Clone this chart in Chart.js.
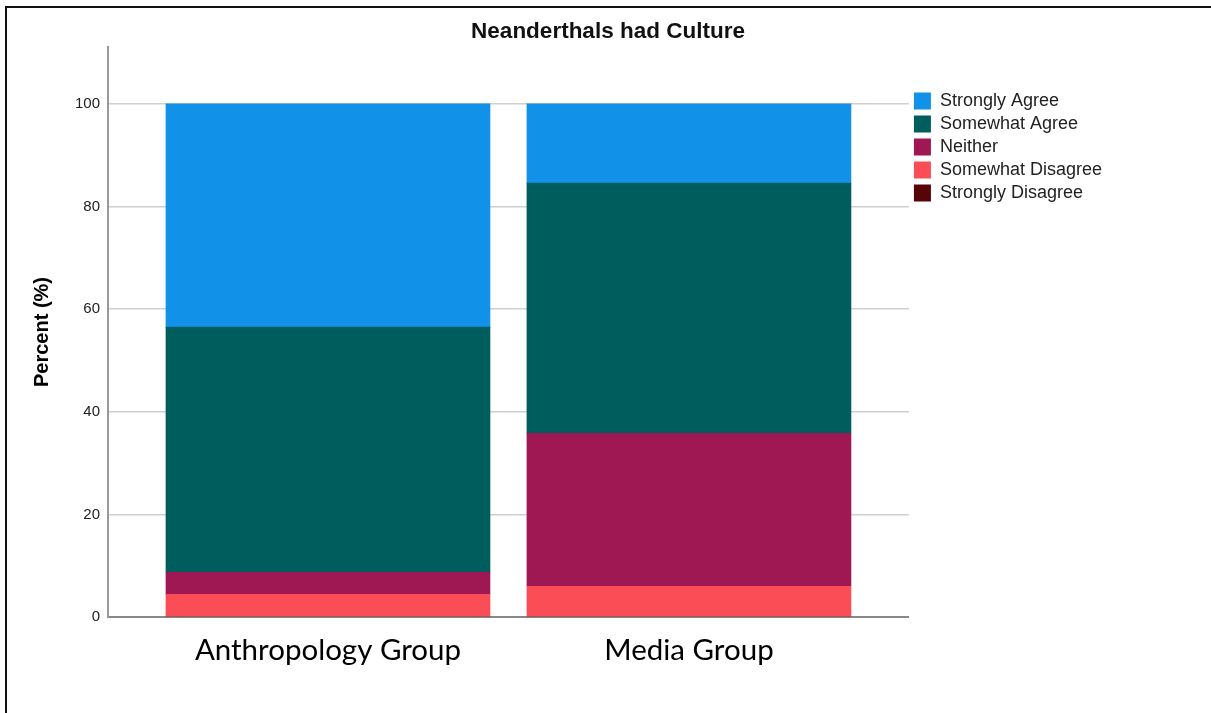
<!DOCTYPE html>
<html>
<head>
<meta charset="utf-8">
<script src="https://cdn.jsdelivr.net/npm/chart.js@4.4.1/dist/chart.umd.min.js"></script>
<style>
  html, body { margin: 0; padding: 0; background: #fff; overflow: hidden; }
  #wrap { position: relative; width: 1211px; height: 713px; }
  #frame { position: absolute; left: 5px; top: 6px; width: 1300px; height: 800px;
           border-top: 2px solid #111; border-left: 2px solid #111; pointer-events: none; }
</style>
</head>
<body>
<div id="wrap">
  <canvas id="c" width="1211" height="713"></canvas>
  <div id="frame"></div>
</div>
<script>
const categories = ['Anthropology Group', 'Media Group'];
const stronglyAgree    = [43.5, 15.4];
const somewhatAgree    = [47.8, 48.8];
const neither          = [4.3, 29.8];
const somewhatDisagree = [4.4, 6.0];
const stronglyDisagree = [0, 0];
const yTicks = [0, 20, 40, 60, 80, 100];

const seriesNames = ['Strongly Disagree', 'Somewhat Disagree', 'Neither', 'Somewhat Agree', 'Strongly Agree'];
const seriesValues = [stronglyDisagree, somewhatDisagree, neither, somewhatAgree, stronglyAgree];
const seriesColors = ['#570408', '#FA4D56', '#9F1853', '#005D5D', '#1192E8'];

const datasets = seriesNames.map((name, i) => ({
  label: name,
  data: seriesValues[i].map((v, j) => ({ x: j, y: v })),
  backgroundColor: seriesColors[i],
  borderWidth: 0,
  barThickness: 324,
  grouped: false
}));

const xPad = 0.6094;

// center the title over the framed picture rather than the padded layout box
const titleSpan = {
  id: 'titleSpan',
  afterLayout(chart) {
    const t = chart.titleBlock;
    if (t) { t.left = 5; t.right = 1211; t.width = 1206; }
  }
};

new Chart(document.getElementById('c'), {
  type: 'bar',
  data: { datasets },
  plugins: [titleSpan],
  options: {
    responsive: false,
    animation: false,
    layout: { padding: { left: 20, right: 99, top: 0, bottom: 0 } },
    plugins: {
      title: {
        display: true,
        text: 'Neanderthals had Culture',
        color: '#111',
        font: { family: 'Liberation Sans, Arial', size: 22.5, weight: 'bold' },
        padding: { top: 18, bottom: 2 }
      },
      legend: {
        position: 'right',
        align: 'start',
        fullSize: false,
        reverse: true,
        title: { display: true, text: ' ', font: { size: 10 }, padding: { top: 28, bottom: 0 } },
        labels: {
          boxWidth: 17,
          boxHeight: 17,
          padding: 5,
          color: '#222',
          font: { family: 'Liberation Sans, Arial', size: 18 }
        }
      },
      tooltip: { enabled: false }
    },
    scales: {
      x: {
        type: 'linear',
        offset: false,
        min: -xPad,
        max: 1 + xPad,
        grid: { display: false, drawTicks: false, offset: false },
        border: { display: true, color: '#888', width: 2 },
        afterBuildTicks: (scale) => { scale.ticks = categories.map((c, i) => ({ value: i })); },
        afterFit: (scale) => { scale.height = 96; },
        ticks: {
          padding: 16,
          color: '#000',
          font: { family: 'Lato', size: 29.5 },
          callback: (v) => categories[v]
        }
      },
      y: {
        stacked: true,
        min: 0,
        max: 111.1,
        afterBuildTicks: (scale) => { scale.ticks = yTicks.map(v => ({ value: v })); },
        afterFit: (scale) => { scale.width = 88; },
        grid: { color: '#cfcfcf', lineWidth: 1.5, drawTicks: false },
        border: { display: true, color: '#999', width: 2 },
        title: {
          display: true,
          text: 'Percent (%)',
          color: '#000',
          font: { family: 'Liberation Sans, Arial', size: 20, weight: 'bold' },
          padding: { top: 10, bottom: 0 }
        },
        ticks: {
          padding: 8,
          color: '#222',
          font: { family: 'Liberation Sans, Arial', size: 15 }
        }
      }
    }
  }
});
</script>
</body>
</html>
